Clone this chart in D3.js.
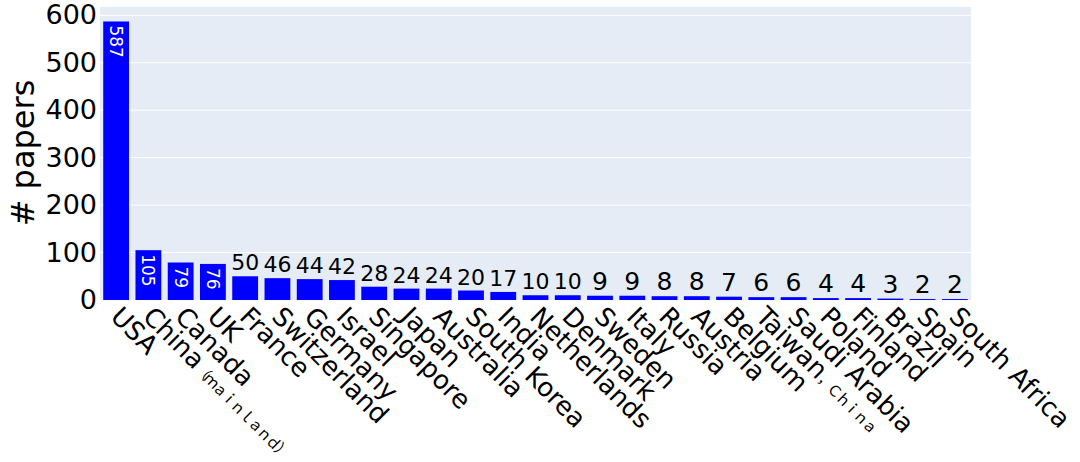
<!DOCTYPE html>
<html>
<head>
<meta charset="utf-8">
<script src="https://cdn.jsdelivr.net/npm/d3@7"></script>
<style>
  body { margin: 0; background: #fff; }
  svg { display: block; font-family: "DejaVu Sans", "Noto Sans CJK SC", sans-serif; }
</style>
</head>
<body>
<svg id="chart" width="1080" height="462"></svg>
<script>
// Data
const countries = ["USA", "China（ｍａｉｎｌａｎｄ）", "Canada", "UK", "France", "Switzerland", "Germany",
    "Israel", "Singapore", "Japan", "Australia", "South Korea", "India", "Netherlands", "Denmark",
    "Sweden", "Italy", "Russia", "Austria", "Belgium", "Taiwan，Ｃｈｉｎａ", "Saudi Arabia", "Poland",
    "Finland", "Brazil", "Spain", "South Africa"];
const papers = [587, 105, 79, 76, 50, 46, 44, 42, 28, 24, 24, 20, 17, 10, 10, 9, 9, 8, 8, 7, 6, 6, 4, 4, 3, 2, 2];
const yTicks = [0, 100, 200, 300, 400, 500, 600];

const data = countries.map(function(c, i) {
    return { country: c, value: papers[i] };
});

// Plot area
const plotLeft = 100, plotRight = 971, plotTop = 7, plotBottom = 300;

const svg = d3.select("#chart");

const x = d3.scaleBand()
    .domain(countries)
    .range([plotLeft, plotRight])
    .paddingInner(0.2)
    .paddingOuter(0.1);

const y = d3.scaleLinear()
    .domain([0, 617.5])
    .range([plotBottom, plotTop]);

// Background
svg.append("rect")
    .attr("x", plotLeft)
    .attr("y", plotTop)
    .attr("width", plotRight - plotLeft)
    .attr("height", plotBottom - plotTop)
    .attr("fill", "#E5ECF6");

// Grid lines
svg.append("g")
    .selectAll("line")
    .data(yTicks.filter(function(d) { return d > 0; }))
    .enter()
    .append("line")
    .attr("x1", plotLeft)
    .attr("x2", plotRight)
    .attr("y1", function(d) { return y(d); })
    .attr("y2", function(d) { return y(d); })
    .attr("stroke", "#fff")
    .attr("stroke-width", 1);

// Y axis tick labels
const yAxis = d3.axisLeft(y).tickValues(yTicks).tickSize(0).tickPadding(3);
const yg = svg.append("g")
    .attr("transform", "translate(" + plotLeft + ",0)")
    .call(yAxis);
yg.select(".domain").remove();
yg.attr("font-family", null).attr("font-size", null);
yg.selectAll("text")
    .style("font-size", "27px")
    .attr("fill", "#000");

// Y axis title
svg.append("text")
    .attr("transform", "translate(34,153) rotate(-90)")
    .attr("text-anchor", "middle")
    .style("font-size", "32px")
    .attr("fill", "#000")
    .text("# papers");

// Bars
svg.append("g")
    .selectAll("rect")
    .data(data)
    .enter()
    .append("rect")
    .attr("x", function(d) { return x(d.country); })
    .attr("y", function(d) { return y(d.value); })
    .attr("width", x.bandwidth())
    .attr("height", function(d) { return y(0) - y(d.value); })
    .attr("fill", "#0000FF");

// Value labels: big bars get rotated white text inside, the rest black text above
const bw = x.bandwidth();
const insideFs = 17;

svg.append("g")
    .selectAll("text")
    .data(data.filter(function(d) { return d.value >= 70; }))
    .enter()
    .append("text")
    .attr("transform", function(d) {
        const cx = x(d.country) + bw / 2 - insideFs * 0.36;
        return "translate(" + cx + "," + (y(d.value) + 4) + ") rotate(90)";
    })
    .attr("text-anchor", "start")
    .style("font-size", insideFs + "px")
    .attr("fill", "#fff")
    .text(function(d) { return d.value; });

svg.append("g")
    .selectAll("text")
    .data(data.filter(function(d) { return d.value < 70; }))
    .enter()
    .append("text")
    .attr("x", function(d) { return x(d.country) + bw / 2; })
    .attr("y", function(d) { return y(d.value) - 6; })
    .attr("text-anchor", "middle")
    .style("font-size", function(d) {
        return String(d.value).length > 1 ? "22px" : "25px";
    })
    .attr("fill", "#000")
    .text(function(d) { return d.value; });

// X axis labels, rotated 45 degrees; the full-width part is set smaller
const xl = svg.append("g")
    .selectAll("text")
    .data(data)
    .enter()
    .append("text")
    .attr("transform", function(d) {
        const cx = x(d.country) + bw / 2;
        return "translate(" + (cx - 7) + ",318) rotate(45)";
    })
    .attr("text-anchor", "start")
    .style("font-size", "26px")
    .attr("fill", "#000");

xl.each(function(d) {
    const t = d3.select(this);
    const m = d.country.match(/^([^\uFF00-\uFFEF]*)([\uFF00-\uFFEF].*)?$/);
    t.append("tspan").text(m[1]);
    if (m[2]) {
        t.append("tspan")
            .style("font-size", "15px")
            .style("letter-spacing", "-2.5px")
            .text(m[2]);
    }
});
</script>
</body>
</html>
